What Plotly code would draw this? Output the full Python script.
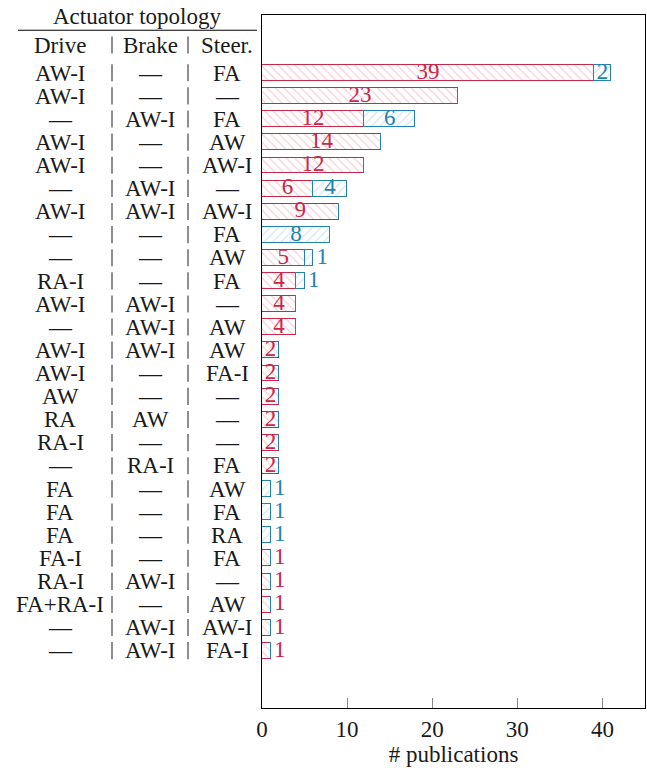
import plotly.graph_objects as go

# ---- data ----
drive = ["AW-I", "AW-I", "—", "AW-I", "AW-I", "—", "AW-I", "—", "—", "RA-I", "AW-I", "—", "AW-I",
         "AW-I", "AW", "RA", "RA-I", "—", "FA", "FA", "FA", "FA-I", "RA-I", "FA+RA-I", "—", "—"]
brake = ["—", "—", "AW-I", "—", "—", "AW-I", "AW-I", "—", "—", "—", "AW-I", "AW-I", "AW-I",
         "—", "—", "AW", "—", "RA-I", "—", "—", "—", "—", "AW-I", "—", "AW-I", "AW-I"]
steer = ["FA", "—", "FA", "AW", "AW-I", "—", "AW-I", "FA", "AW", "FA", "—", "AW", "AW",
         "FA-I", "—", "—", "—", "FA", "AW", "FA", "RA", "FA", "—", "AW", "AW-I", "FA-I"]
red_vals = [39, 23, 12, 14, 12, 6, 9, 0, 5, 4, 4, 4, 2, 2, 2, 2, 2, 2, 0, 0, 0, 1, 1, 1, 1, 1]
blue_vals = [2, 0, 6, 0, 0, 4, 0, 8, 1, 1, 0, 0, 0, 0, 0, 0, 0, 0, 1, 1, 1, 0, 0, 0, 0, 0]
x_ticks = [0, 10, 20, 30, 40]

RED = "#C8284A"
BLUE = "#2383AC"
FONT = "Liberation Serif"
FS = 23
TXT = "#1a1a1a"

rows = list(range(len(drive)))

fig = go.Figure()
fig.add_trace(go.Bar(
    y=rows, x=red_vals, orientation="h", width=0.69,
    marker=dict(color="white", line=dict(color=RED, width=1.2),
                pattern=dict(shape="\\", fgcolor="#EFA3B3", bgcolor="white", size=6, solidity=0.22)),
    showlegend=False, hoverinfo="skip"))
fig.add_trace(go.Bar(
    y=rows, x=blue_vals, orientation="h", width=0.69,
    marker=dict(color="white", line=dict(color=BLUE, width=1.2),
                pattern=dict(shape="/", fgcolor="#A3D2E6", bgcolor="white", size=6, solidity=0.22)),
    showlegend=False, hoverinfo="skip"))

# value labels
for vals, base, color in [(red_vals, [0] * len(rows), RED), (blue_vals, red_vals, BLUE)]:
    xin, yin, tin, xout, yout, tout = [], [], [], [], [], []
    for i, v in enumerate(vals):
        if v <= 0:
            continue
        if v >= 2:
            xin.append(base[i] + v / 2); yin.append(i); tin.append(str(v))
        else:
            xout.append(base[i] + v + 0.4); yout.append(i); tout.append(str(v))
    fig.add_trace(go.Scatter(x=xin, y=yin, text=tin, mode="text", textposition="middle center",
                             textfont=dict(color=color, family=FONT, size=FS),
                             showlegend=False, cliponaxis=False, hoverinfo="skip"))
    fig.add_trace(go.Scatter(x=xout, y=yout, text=tout, mode="text", textposition="middle right",
                             textfont=dict(color=color, family=FONT, size=FS),
                             showlegend=False, cliponaxis=False, hoverinfo="skip"))

L, R = 262, 645
PW = R - L


def px(p):
    return (p - L) / PW


ann = []
shapes = []
col_x = [60, 150, 227]
sep_x = [112, 188]
for i in rows:
    for cx, t in zip(col_x, [drive[i], brake[i], steer[i]]):
        ann.append(dict(x=px(cx), y=i, xref="paper", yref="y", text=t, showarrow=False,
                        xanchor="center", yanchor="middle",
                        font=dict(family=FONT, size=FS, color=TXT)))
    for sx in sep_x:
        shapes.append(dict(type="line", xref="paper", yref="y", x0=px(sx), x1=px(sx),
                           y0=i - 0.38, y1=i + 0.36, line=dict(color="#333", width=1.1)))
for cx, t in zip(col_x, ["Drive", "Brake", "Steer."]):
    ann.append(dict(x=px(cx), y=-1.2, xref="paper", yref="y", text=t, showarrow=False,
                    xanchor="center", yanchor="middle",
                    font=dict(family=FONT, size=FS, color=TXT)))
for sx in sep_x:
    shapes.append(dict(type="line", xref="paper", yref="y", x0=px(sx), x1=px(sx),
                       y0=-1.2 - 0.38, y1=-1.2 + 0.36, line=dict(color="#333", width=1.1)))
ann.append(dict(x=px(137), y=-2.45, xref="paper", yref="y", text="Actuator topology", showarrow=False,
                xanchor="center", yanchor="middle", font=dict(family=FONT, size=FS, color=TXT)))
shapes.append(dict(type="line", xref="paper", yref="y", x0=px(18), x1=px(257), y0=-1.85, y1=-1.85,
                   line=dict(color="black", width=1.2)))

fig.update_layout(
    width=647, height=768, autosize=False,
    margin=dict(l=L, r=647 - R, t=15, b=60),
    barmode="stack", bargap=0,
    plot_bgcolor="white", paper_bgcolor="white",
    annotations=ann,
    shapes=shapes,
    xaxis=dict(range=[0, 45], tickvals=x_ticks, ticks="inside", ticklen=10, tickcolor="#888",
               showline=True, mirror=True, linecolor="black", linewidth=1.2, showgrid=False,
               zeroline=False, tickfont=dict(family=FONT, size=FS, color=TXT),
               title=dict(text="# publications", font=dict(family=FONT, size=FS, color=TXT), standoff=4)),
    yaxis=dict(range=[27.47, -2.51], showticklabels=False, ticks="", showline=True, mirror=True,
               linecolor="black", linewidth=1.2, showgrid=False, zeroline=False),
)

fig.write_html("out.html", config={"responsive": False, "displayModeBar": False},
               post_script="document.body.style.margin='0';document.body.style.overflow='hidden';")
